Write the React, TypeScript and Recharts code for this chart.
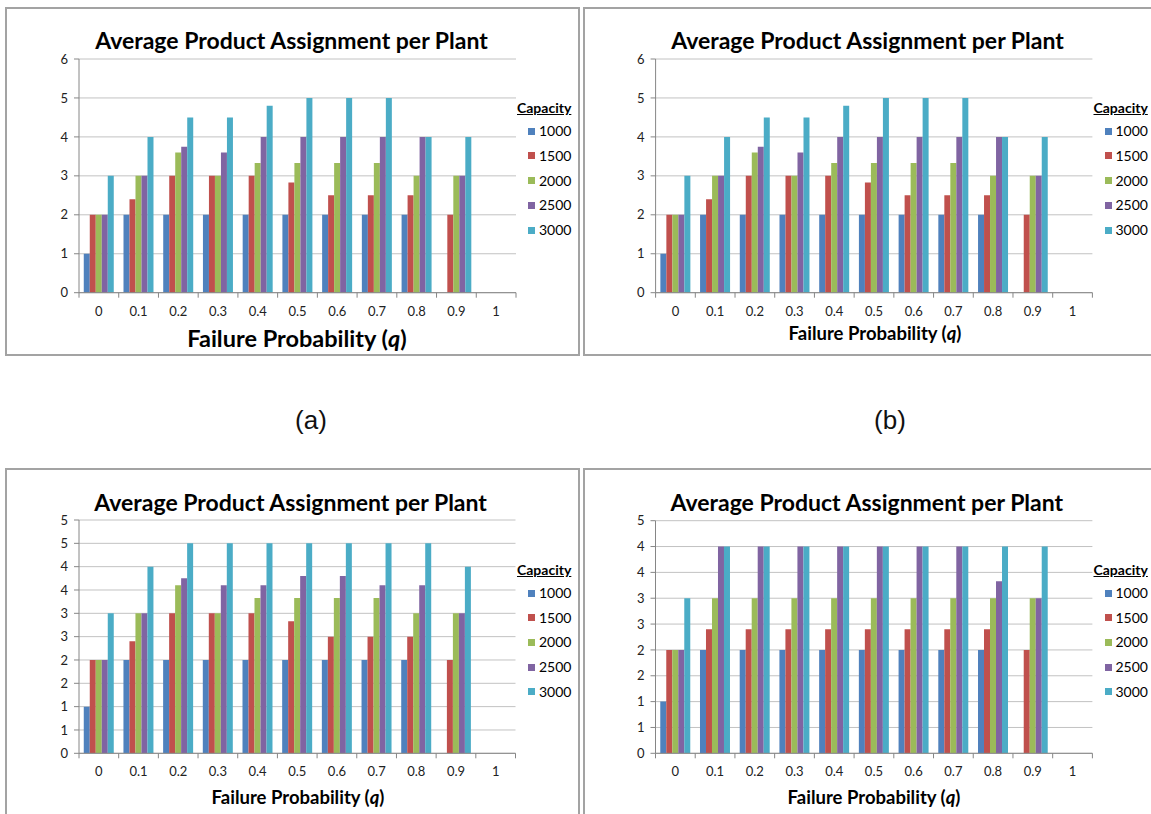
import React from 'react';
import { BarChart, Bar, XAxis, YAxis, CartesianGrid } from 'recharts';

// Failure probability categories (x axis)
const qLabels = ['0', '0.1', '0.2', '0.3', '0.4', '0.5', '0.6', '0.7', '0.8', '0.9', '1'];

// Plant capacity series
const capacities = ['1000', '1500', '2000', '2500', '3000'];
const capacityColors = ['#4F81BD', '#C0504D', '#9BBB59', '#8064A2', '#4BACC6'];

// Panels (a) and (b)
const cap1000A = [1, 2, 2, 2, 2, 2, 2, 2, 2, null, null];
const cap1500A = [2, 2.4, 3, 3, 3, 2.83, 2.5, 2.5, 2.5, 2, null];
const cap2000A = [2, 3, 3.6, 3, 3.33, 3.33, 3.33, 3.33, 3, 3, null];
const cap2500A = [2, 3, 3.75, 3.6, 4, 4, 4, 4, 4, 3, null];
const cap3000A = [3, 4, 4.5, 4.5, 4.8, 5, 5, 5, 4, 4, null];

// Panel (c)
const cap1000C = [1, 2, 2, 2, 2, 2, 2, 2, 2, null, null];
const cap1500C = [2, 2.4, 3, 3, 3, 2.83, 2.5, 2.5, 2.5, 2, null];
const cap2000C = [2, 3, 3.6, 3, 3.33, 3.33, 3.33, 3.33, 3, 3, null];
const cap2500C = [2, 3, 3.75, 3.6, 3.6, 3.8, 3.8, 3.6, 3.6, 3, null];
const cap3000C = [3, 4, 4.5, 4.5, 4.5, 4.5, 4.5, 4.5, 4.5, 4, null];

// Panel (d)
const cap1000D = [1, 2, 2, 2, 2, 2, 2, 2, 2, null, null];
const cap1500D = [2, 2.4, 2.4, 2.4, 2.4, 2.4, 2.4, 2.4, 2.4, 2, null];
const cap2000D = [2, 3, 3, 3, 3, 3, 3, 3, 3, 3, null];
const cap2500D = [2, 4, 4, 4, 4, 4, 4, 4, 3.33, 3, null];
const cap3000D = [3, 4, 4, 4, 4, 4, 4, 4, 4, 4, null];

// Y tick values
const ticksWhole6 = [0, 1, 2, 3, 4, 5, 6];
const ticksHalf5 = [0, 0.5, 1, 1.5, 2, 2.5, 3, 3.5, 4, 4.5, 5];
const ticksHalf45 = [0, 0.5, 1, 1.5, 2, 2.5, 3, 3.5, 4, 4.5];

const chartTitle = 'Average Product Assignment per Plant';
const legendTitle = 'Capacity';

const FONT = 'Lato, "Open Sans", sans-serif';
const AXIS_GREY = '#868686';
const Y_W = 30;
const X_H = 30;

type Row = { [key: string]: string | number | null };

function buildRows(series: (number | null)[][]): Row[] {
  return qLabels.map((q, i) => {
    const row: Row = { q };
    capacities.forEach((c, k) => {
      row['c' + c] = series[k][i];
    });
    return row;
  });
}

const rowsA = buildRows([cap1000A, cap1500A, cap2000A, cap2500A, cap3000A]);
const rowsC = buildRows([cap1000C, cap1500C, cap2000C, cap2500C, cap3000C]);
const rowsD = buildRows([cap1000D, cap1500D, cap2000D, cap2500D, cap3000D]);

type Box = { left: number; top: number; width: number; height: number };
type Plot = { left: number; top: number; right: number; bottom: number };

interface PanelProps {
  box: Box;
  plot: Plot;
  rows: Row[];
  yTicks: number[];
  yMax: number;
  roundTicks: boolean;
  titleX: number;
  titleY: number;
  xTitleX: number;
  xTitleY: number;
  xTitleSize: number;
  legendX: number;
  legendY: number;
}

function Panel(props: PanelProps) {
  const { box, plot, rows, yTicks, yMax, roundTicks } = props;
  const bandWidth = (plot.right - plot.left) / qLabels.length;
  const margin = {
    top: plot.top - box.top,
    left: plot.left - box.left - Y_W,
    right: box.left + box.width - plot.right,
    bottom: box.top + box.height - plot.bottom - X_H,
  };

  // Category labels sit mid-band; tick marks fall on band boundaries
  const renderCategoryTick = (p: any) => {
    const { x, y, payload, index } = p;
    const isLast = index === qLabels.length - 1;
    return (
      <g>
        <line x1={x - bandWidth / 2} y1={y} x2={x - bandWidth / 2} y2={y + 5} stroke={AXIS_GREY} />
        {isLast && <line x1={x + bandWidth / 2} y1={y} x2={x + bandWidth / 2} y2={y + 5} stroke={AXIS_GREY} />}
        <text x={x} y={y + 18} textAnchor="middle" dominantBaseline="central" fontSize={13} fill="#222" fontFamily={FONT}>
          {payload.value}
        </text>
      </g>
    );
  };

  return (
    <>
      <div
        style={{
          position: 'absolute',
          left: box.left,
          top: box.top,
          width: box.width,
          height: box.height,
          border: '2px solid #A3A3A3',
          boxSizing: 'border-box',
        }}
      />
      <div style={{ position: 'absolute', left: box.left, top: box.top }}>
        <BarChart
          width={box.width}
          height={box.height}
          data={rows}
          margin={margin}
          barCategoryGap="12%"
          barGap={0}
        >
          <CartesianGrid vertical={false} stroke="#C2C2C2" />
          <XAxis
            dataKey="q"
            height={X_H}
            tickSize={0}
            tickMargin={0}
            tickLine={false}
            axisLine={{ stroke: AXIS_GREY }}
            interval={0}
            tick={renderCategoryTick}
          />
          <YAxis
            type="number"
            width={Y_W}
            domain={[0, yMax]}
            ticks={yTicks}
            interval={0}
            allowDataOverflow
            tickSize={5}
            tickMargin={6}
            tickLine={{ stroke: AXIS_GREY }}
            axisLine={{ stroke: AXIS_GREY }}
            tick={{ fontSize: 13, fill: '#222', fontFamily: FONT }}
            tickFormatter={(v: number) => (roundTicks ? String(Math.round(v)) : String(v))}
          />
          {capacities.map((c, k) => (
            <Bar key={c} dataKey={'c' + c} fill={capacityColors[k]} isAnimationActive={false} />
          ))}
        </BarChart>
      </div>
      <div
        style={{
          position: 'absolute',
          left: props.titleX - 250,
          width: 500,
          top: props.titleY - 15,
          height: 30,
          lineHeight: '30px',
          textAlign: 'center',
          fontFamily: FONT,
          fontWeight: 700,
          fontSize: 23,
          color: '#000',
          whiteSpace: 'nowrap',
        }}
      >
        {chartTitle}
      </div>
      <div
        style={{
          position: 'absolute',
          left: props.xTitleX - 200,
          width: 400,
          top: props.xTitleY - 16,
          height: 32,
          lineHeight: '32px',
          textAlign: 'center',
          fontFamily: FONT,
          fontWeight: 700,
          fontSize: props.xTitleSize,
          color: '#000',
          whiteSpace: 'nowrap',
        }}
      >
        Failure Probability (<i>q</i>)
      </div>
      <div
        style={{
          position: 'absolute',
          left: props.legendX,
          top: props.legendY - 10,
          width: 60,
          height: 150,
          fontFamily: FONT,
          color: '#000',
          whiteSpace: 'nowrap',
        }}
      >
        <div style={{ height: 20, lineHeight: '20px', fontSize: 14, fontWeight: 700, textDecoration: 'underline' }}>
          {legendTitle}
        </div>
        {capacities.map((c, k) => (
          <div
            key={c}
            style={{
              position: 'absolute',
              left: 11,
              top: 23 + 24.7 * k,
              height: 20,
              lineHeight: '20px',
              fontSize: 14,
              display: 'flex',
              alignItems: 'center',
            }}
          >
            <span style={{ display: 'inline-block', width: 7, height: 7, background: capacityColors[k], marginRight: 4 }} />
            <span>{c}</span>
          </div>
        ))}
      </div>
    </>
  );
}

export default function App() {
  return (
    <div
      style={{
        position: 'absolute',
        left: 0,
        top: 0,
        width: 1151,
        height: 814,
        overflow: 'hidden',
        background: '#fff',
      }}
    >
      <Panel
        box={{ left: 5, top: 7, width: 575, height: 349 }}
        plot={{ left: 79, top: 59, right: 516, bottom: 292.7 }}
        rows={rowsA}
        yTicks={ticksWhole6}
        yMax={6}
        roundTicks={false}
        titleX={291.5}
        titleY={40}
        xTitleX={297}
        xTitleY={338}
        xTitleSize={23.5}
        legendX={517}
        legendY={108.3}
      />
      <Panel
        box={{ left: 583, top: 7, width: 575, height: 349 }}
        plot={{ left: 655.6, top: 59, right: 1092.4, bottom: 292.7 }}
        rows={rowsA}
        yTicks={ticksWhole6}
        yMax={6}
        roundTicks={false}
        titleX={867.5}
        titleY={40}
        xTitleX={875}
        xTitleY={333.3}
        xTitleSize={18.5}
        legendX={1093.5}
        legendY={108.3}
      />
      <Panel
        box={{ left: 5, top: 468, width: 575, height: 360 }}
        plot={{ left: 79, top: 520, right: 515.5, bottom: 753.3 }}
        rows={rowsC}
        yTicks={ticksHalf5}
        yMax={5}
        roundTicks={true}
        titleX={290.6}
        titleY={501.7}
        xTitleX={298}
        xTitleY={796.7}
        xTitleSize={18.5}
        legendX={517}
        legendY={570}
      />
      <Panel
        box={{ left: 583, top: 468, width: 575, height: 360 }}
        plot={{ left: 655.5, top: 520.7, right: 1092.4, bottom: 753.3 }}
        rows={rowsD}
        yTicks={ticksHalf45}
        yMax={4.5}
        roundTicks={true}
        titleX={866.8}
        titleY={501.7}
        xTitleX={874}
        xTitleY={796.7}
        xTitleSize={18.5}
        legendX={1093.5}
        legendY={570}
      />
      <div
        style={{
          position: 'absolute',
          left: 261,
          width: 100,
          top: 404,
          height: 32,
          lineHeight: '32px',
          textAlign: 'center',
          fontFamily: '"Liberation Sans", Arial, sans-serif',
          fontSize: 26,
          color: '#111',
        }}
      >
        (a)
      </div>
      <div
        style={{
          position: 'absolute',
          left: 840,
          width: 100,
          top: 404,
          height: 32,
          lineHeight: '32px',
          textAlign: 'center',
          fontFamily: '"Liberation Sans", Arial, sans-serif',
          fontSize: 26,
          color: '#111',
        }}
      >
        (b)
      </div>
    </div>
  );
}
